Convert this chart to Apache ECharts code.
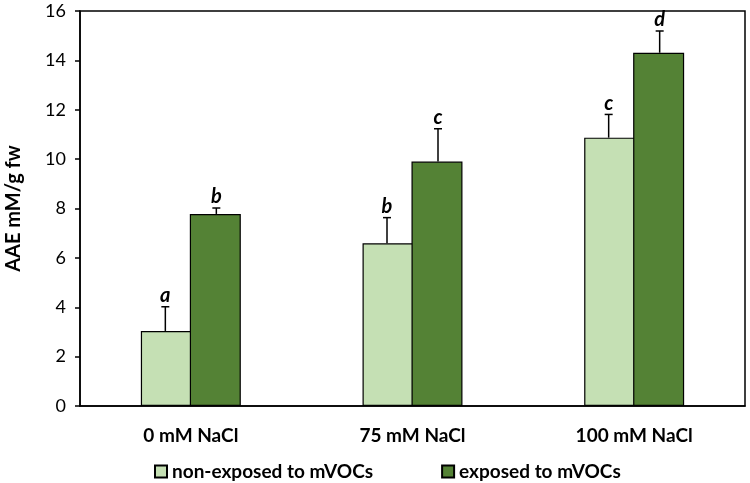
<!DOCTYPE html>
<html>
<head>
<meta charset="utf-8">
<script src="https://cdn.jsdelivr.net/npm/echarts@6/dist/echarts.min.js"></script>
<style>html,body{margin:0;padding:0;background:#fff}#c{width:750px;height:483px}</style>
</head>
<body>
<div id="c"></div>
<script>
const categories = ['0 mM NaCl', '75 mM NaCl', '100 mM NaCl'];
const seriesNames = ['non-exposed to mVOCs', 'exposed to mVOCs'];
const nonExposed = [3.04, 6.59, 10.87];
const exposed = [7.78, 9.9, 14.31];
const nonExposedErr = [0.98, 1.04, 0.94];
const exposedErr = [0.24, 1.33, 0.88];
const nonExposedLetters = ['a', 'b', 'c'];
const exposedLetters = ['b', 'c', 'd'];
const yTicks = [0, 2, 4, 6, 8, 10, 12, 14, 16];

const FONT = 'Lato, "Open Sans", sans-serif';
const BAR_W = 51;
const lightColor = '#C5E0B4';
const darkColor = '#548235';

function errSeries(vals, errs, letters, offset) {
  return {
    type: 'custom',
    silent: true,
    z: 5,
    data: vals.map((v, i) => [i, v, errs[i]]),
    renderItem: function (params, api) {
      const i = api.value(0), v = api.value(1), e = api.value(2);
      const base = api.coord([i, v]);
      const top = api.coord([i, v + e]);
      const x = base[0] + offset;
      return {
        type: 'group',
        children: [
          { type: 'line', shape: { x1: x, y1: base[1], x2: x, y2: top[1] }, style: { stroke: '#000', lineWidth: 1.5 } },
          { type: 'line', shape: { x1: x - 4, y1: top[1], x2: x + 4, y2: top[1] }, style: { stroke: '#000', lineWidth: 1.5 } },
          { type: 'text', x: x, y: top[1] - 1, style: { text: letters[params.dataIndex], fontFamily: FONT, fontSize: 20, fontWeight: 'bold', fontStyle: 'italic', fill: '#000', align: 'center', verticalAlign: 'bottom' } }
        ]
      };
    }
  };
}

const chart = echarts.init(document.getElementById('c'));
chart.setOption({
  animation: false,
  backgroundColor: '#fff',
  grid: { left: 80, right: 5, top: 11, bottom: 77, outerBoundsMode: 'none', containLabel: false,
          show: true, borderColor: '#000', borderWidth: 1.5, backgroundColor: 'transparent' },
  legend: {
    left: 149, top: 457, itemGap: 68, itemWidth: 12, itemHeight: 12, icon: 'rect',
    textStyle: { fontFamily: FONT, fontSize: 19, fontWeight: 'bold', color: '#000' },
    data: seriesNames
  },
  xAxis: {
    type: 'category', data: categories,
    axisLine: { lineStyle: { color: '#000', width: 1.5 } },
    axisTick: { show: false },
    axisLabel: { fontFamily: FONT, fontSize: 19, fontWeight: 'bold', color: '#000', margin: 20 }
  },
  yAxis: {
    type: 'value', min: 0, max: 16, interval: 2,
    name: 'AAE mM/g fw', nameLocation: 'middle', nameGap: 56,
    nameTextStyle: { fontFamily: FONT, fontSize: 20, fontWeight: 'bold', color: '#000' },
    axisLine: { show: true, lineStyle: { color: '#000', width: 1.5 } },
    axisTick: { show: true, inside: false, length: 5, lineStyle: { color: '#000', width: 1.5 } },
    axisLabel: { fontFamily: FONT, fontSize: 18, color: '#000', margin: 14, formatter: v => yTicks.includes(v) ? String(v) : '' },
    splitLine: { show: false }
  },
  series: [
    { name: seriesNames[0], type: 'bar', data: nonExposed, barWidth: BAR_W, barGap: '-4%',
      itemStyle: { color: lightColor, borderColor: '#000', borderWidth: 1.2 } },
    { name: seriesNames[1], type: 'bar', data: exposed, barWidth: BAR_W, barGap: '-4%',
      itemStyle: { color: darkColor, borderColor: '#000', borderWidth: 1.2 } },
    errSeries(nonExposed, nonExposedErr, nonExposedLetters, -BAR_W / 2),
    errSeries(exposed, exposedErr, exposedLetters, BAR_W / 2)
  ]
});
</script>
</body>
</html>
